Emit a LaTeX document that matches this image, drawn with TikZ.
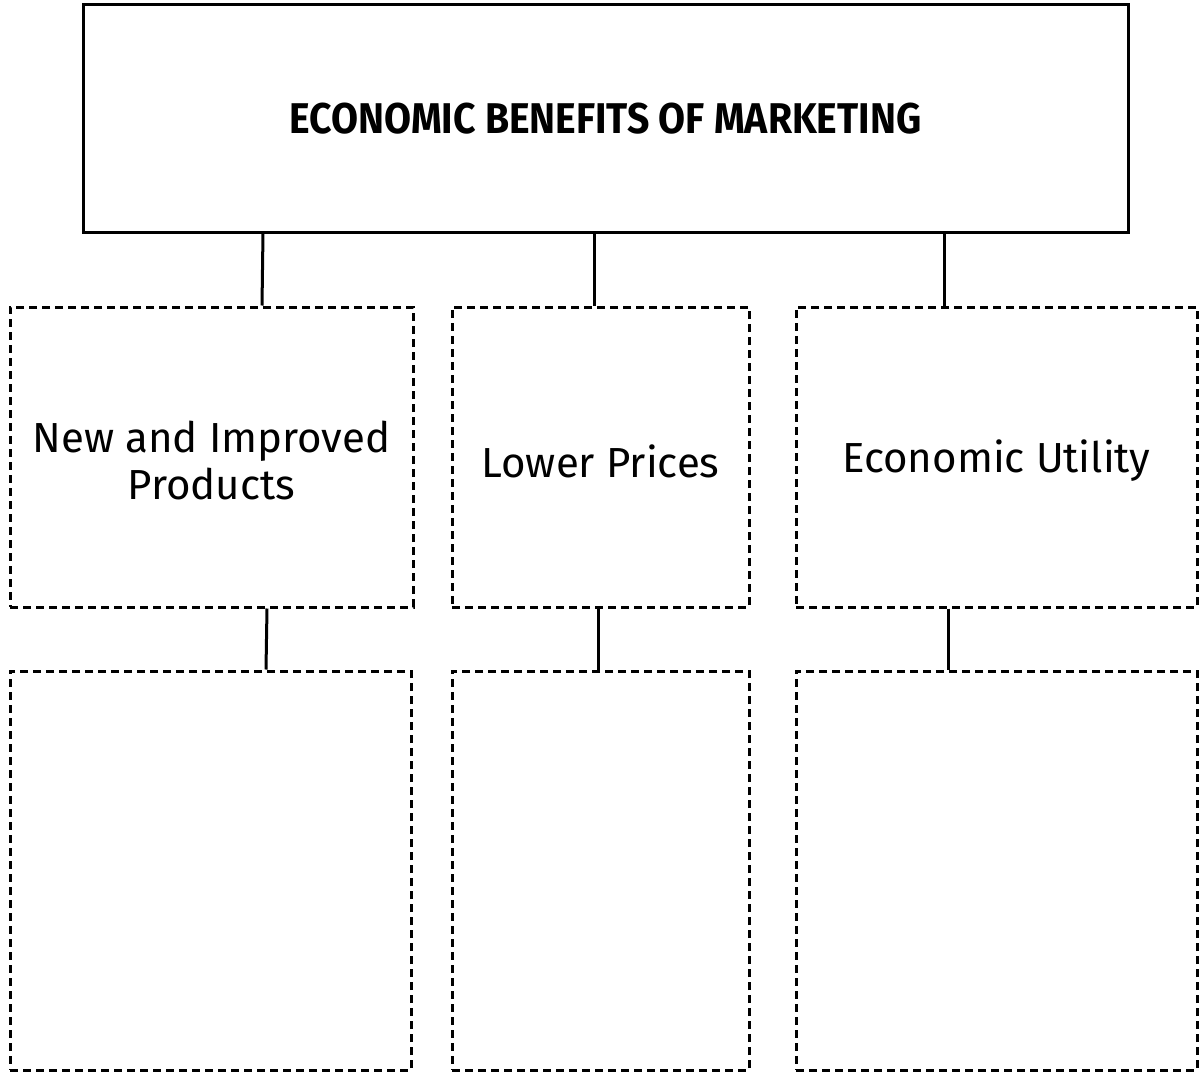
\documentclass[tikz,border=0pt]{standalone}
\usepackage{fontspec}
\setmainfont{Fira Sans}
\newfontfamily\titlefont[FakeStretch=0.91]{Fira Sans}
\begin{document}
\begin{tikzpicture}[x=1pt,y=-1pt,
  solidbox/.style={draw=black,line width=3pt,fill=white,inner sep=0pt},
  dashbox/.style={draw=black,line width=3pt,dash pattern=on 8pt off 5pt,inner sep=0pt},
  boxtext/.style={align=center,inner sep=0pt,font=\fontsize{42}{47}\selectfont},
  link/.style={draw=black,line width=3pt}]
\useasboundingbox (0,0) rectangle (1199,1073);
\node[solidbox,minimum width=1045pt,minimum height=227pt,font=\titlefont\bfseries\fontsize{43}{50}\selectfont] (top) at (605.5,118.5) {ECONOMIC BENEFITS OF MARKETING};
\node[dashbox,minimum width=403pt,minimum height=300pt] (m1) at (211.5,457) {};
\node[dashbox,minimum width=297pt,minimum height=300pt] (m2) at (600.5,457) {};
\node[dashbox,minimum width=401pt,minimum height=300pt] (m3) at (996.5,457) {};
\node[boxtext] (t1) at ([yshift=-3pt]m1.center) {New and Improved\\Products};
\node[boxtext] (t2) at ([yshift=-4pt]m2.center) {Lower Prices};
\node[boxtext] (t3) at ([yshift=-4pt]m3.center) {Economic Utility};
\node[dashbox,minimum width=401pt,minimum height=399pt] (b1) at (210.5,870.5) {};
\node[dashbox,minimum width=297pt,minimum height=399pt] (b2) at (600.5,870.5) {};
\node[dashbox,minimum width=401pt,minimum height=399pt] (b3) at (996.5,870.5) {};
\draw[link] (top.south -| 263,0) -- (m1.north -| 262,0);
\draw[link] (top.south -| 594,0) -- (m2.north -| 594,0);
\draw[link] (top.south -| 944,0) -- (m3.north -| 944,0);
\draw[link] (m1.south -| 267,0) -- (b1.north -| 266,0);
\draw[link] (m2.south -| 598,0) -- (b2.north -| 598,0);
\draw[link] (m3.south -| 948,0) -- (b3.north -| 948,0);
\end{tikzpicture}
\end{document}
